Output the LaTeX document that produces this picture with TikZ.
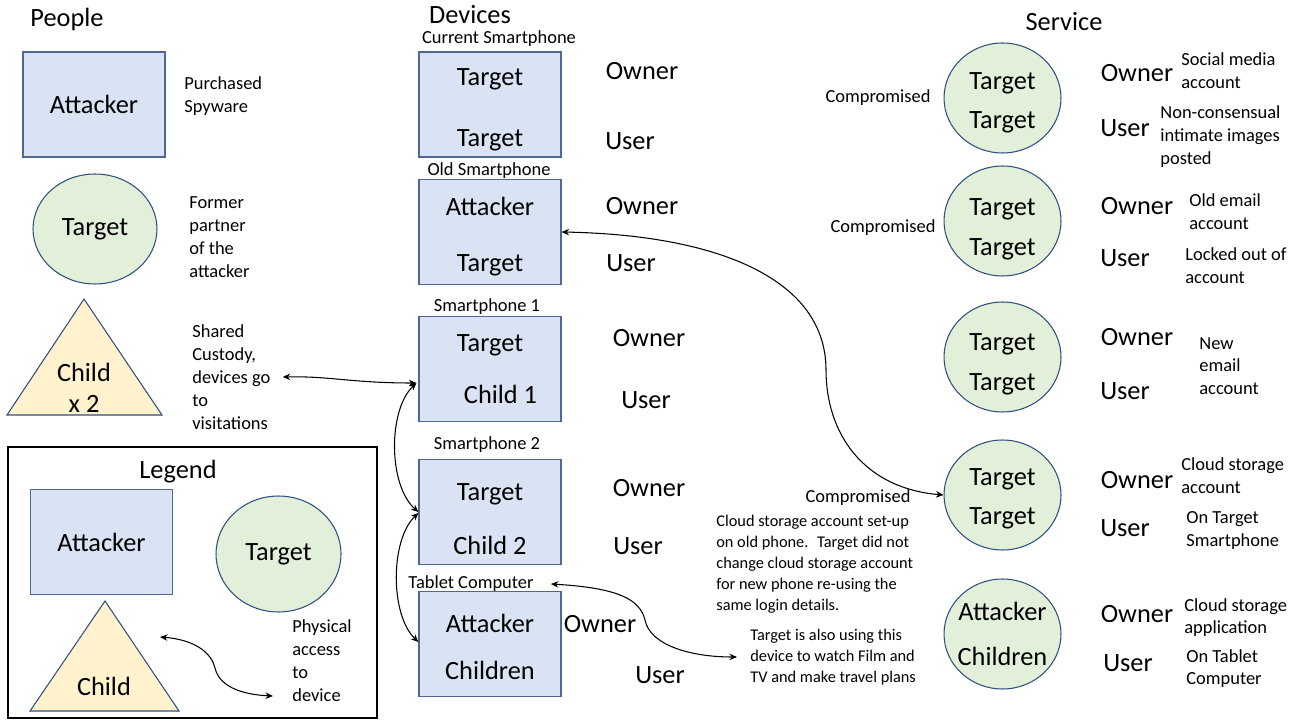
\documentclass[tikz,border=0pt]{standalone}
\usepackage{fontspec}
\setmainfont{Carlito}
\usetikzlibrary{positioning, arrows.meta, shapes.geometric, calc}
\definecolor{boxblue}{HTML}{DAE3F3}
\definecolor{boxedge}{HTML}{52678F}
\definecolor{svcgreen}{HTML}{E2EFD9}
\definecolor{kidyellow}{HTML}{FFF2CC}
\definecolor{edgeblue}{HTML}{2F4F80}
\tikzset{
  >={Stealth[length=1.5mm, width=1.3mm]},
  big/.style={font=\fontsize{15}{18}\selectfont, inner sep=0pt},
  hdr/.style={big},
  role/.style={big},
  devbox/.style={big, draw=boxedge, fill=boxblue, line width=0.7pt, minimum width=2.84cm, minimum height=2.1cm, align=center},
  svc/.style={big, draw=edgeblue, fill=svcgreen, line width=0.6pt, ellipse, inner xsep=-9pt, inner ysep=-8pt, minimum width=2.34cm, minimum height=2.2cm, align=center},
  kid/.style={draw=edgeblue, fill=kidyellow, line width=0.6pt},
  small/.style={font=\fontsize{10.5}{13}\selectfont, inner sep=0pt},
  note/.style={small, anchor=west, align=left},
  para/.style={font=\fontsize{9.3}{11.9}\selectfont, inner sep=0pt, anchor=west, align=left},
  link/.style={<->, line width=0.6pt},
}
% taller first line pushes the two names down in the shape
\newcommand{\padtop}[1]{\rule{0pt}{#1}}

\begin{document}
\begin{tikzpicture}[x=0.02cm, y=-0.02cm]
\useasboundingbox (0,0) rectangle (1300,722);

% headings
\node[hdr] (hPeople) at (67,19) {People};
\node[hdr] (hDevices) at (470,15) {Devices};
\node[hdr] (hService) at (1064,22) {Service};

% people
\node[devbox] (pAtt) at (94,104.5) {Attacker};
\node[note] (pAttNote) at (184,96) {Purchased\\Spyware};
\node[svc, inner xsep=0pt, minimum width=2.48cm] (pTgt) at (95,229) {Target};
\node[note] (pTgtNote) at (189,237) {Former\\partner\\of the\\attacker};
\draw[kid] (84,299) -- (162,415) -- (7,415) -- cycle;
\node[big, align=center] (pKid) at (84,388) {Child\\x 2};
\node[note] (pKidNote) at (192,377) {Shared\\Custody,\\devices go\\to\\visitations};

% legend
\draw[line width=1.5pt] (8,447) rectangle (377,718);
\node[big] (legTitle) at (178,472) {Legend};
\node[devbox] (lAtt) at (101.5,542) {Attacker};
\node[svc, inner xsep=0pt, minimum width=2.5cm, minimum height=2.32cm] (lTgt) at (278.5,554) {Target};
\draw[kid] (105,601) -- (179,711) -- (30,711) -- cycle;
\node[big] (lKid) at (104,686) {Child};
\node[note] (lNote) at (292,660.5) {Physical\\access\\to\\device};
\coordinate (lArrA) at (160,637);
\coordinate (lArrB) at (273,696);
\draw[link] (lArrA) .. controls (198,640) and (212,655) .. (215,668) .. controls (220,690) and (250,695) .. (lArrB);

% devices
\node[small] (dCurLbl) at (499,39) {Current Smartphone};
\node[devbox] (dCur) at (490,104.5) {\padtop{15.4pt}Target\\[17pt]Target};
\node[role] (dCurOwn) at (642,71) {Owner};
\node[role] (dCurUse) at (630,141) {User};

\node[small] (dOldLbl) at (489,171) {Old Smartphone};
\node[devbox] (dOld) at (490,232) {\padtop{15.9pt}Attacker\\[14pt]Target};
\node[role] (dOldOwn) at (642,206) {Owner};
\node[role] (dOldUse) at (631,263) {User};

\node[small] (dSp1Lbl) at (487,307) {Smartphone 1};
\node[devbox] (dSp1) at (490,369) {Target\\[12pt]\hspace*{12pt}Child 1};
\node[role] (dSp1Own) at (649,338) {Owner};
\node[role] (dSp1Use) at (646,400) {User};

\node[small] (dSp2Lbl) at (487,445) {Smartphone 2};
\node[devbox] (dSp2) at (490,512) {\padtop{17.6pt}Target\\[13pt]Child 2};
\node[role] (dSp2Own) at (649,488) {Owner};
\node[role] (dSp2Use) at (638,546) {User};

\node[small] (dTabLbl) at (471,584) {Tablet Computer};
\node[devbox] (dTab) at (490,644) {\padtop{13.6pt}Attacker\\[9pt]Children};
\node[role] (dTabOwn) at (600,624) {Owner};
\node[role] (dTabUse) at (660,675) {User};

% services
\node[svc] (s1) at (1002.5,98) {\padtop{15.4pt}Target\\[4pt]Target};
\node[small] (comp1) at (878,98) {Compromised};
\node[role] (s1Own) at (1137,73) {Owner};
\node[role] (s1Use) at (1125,128) {User};
\node[note] (s1a) at (1181,70.5) {Social media\\account};
\node[note] (s1b) at (1160,136.5) {Non-consensual\\intimate images\\posted};

\node[svc] (s2) at (1002.5,221) {\padtop{18.8pt}Target\\[5pt]Target};
\node[small] (comp2) at (883,228) {Compromised};
\node[role] (s2Own) at (1137,206) {Owner};
\node[role] (s2Use) at (1125,258) {User};
\node[note] (s2a) at (1189,211.5) {Old email\\account};
\node[note] (s2b) at (1185,266) {Locked out of\\account};

\node[svc] (s3) at (1002.5,357) {\padtop{17.6pt}Target\\[4.7pt]Target};
\node[role] (s3Own) at (1137,337) {Owner};
\node[role] (s3Use) at (1125,391) {User};
\node[note] (s3a) at (1199,366) {New\\email\\account};

\node[svc] (s4) at (1002.5,495) {\padtop{14.2pt}Target\\[4pt]Target};
\node[role] (s4Own) at (1137,480) {Owner};
\node[role] (s4Use) at (1125,528) {User};
\node[note] (s4a) at (1181,475.5) {Cloud storage\\account};
\node[note] (s4b) at (1186,530.5) {On Target\\Smartphone};
\node[small] (comp4) at (858,498) {Compromised};
\node[para] (cloudNote) at (716,564) {Cloud storage account set-up\\on old phone.~ Target did not\\change cloud storage account\\for new phone re-using the\\same login details.};

\node[svc] (s5) at (1002.5,634) {Attacker\\[7.5pt]Children};
\node[role] (s5Own) at (1137,614) {Owner};
\node[role] (s5Use) at (1128,663) {User};
\node[note] (s5a) at (1184,617.5) {Cloud storage\\application};
\node[note] (s5b) at (1186,668.5) {On Tablet\\Computer};
\node[para] (tabNote) at (750,657) {Target is also using this\\device to watch Film and\\TV and make travel plans};

% links
\draw[link] ($(pKidNote.east)+(12,0)$) .. controls (330,376) and (352,383) .. ($(dSp1.west)+(-2,14)$);
\draw[link] ($(dSp1.west)+(-2,14)$) .. controls (388,410) and (388,485) .. (dSp2.west);
\draw[link] ($(dSp2.west)+(0,1)$) .. controls (390,540) and (390,615) .. ($(dTab.west)+(0,-2)$);
\draw[link] (dOld.east) .. controls (720,235) and (826,280) .. (826,370) .. controls (826,432) and (862,488) .. (s4.west);
\draw[link] ($(dTabLbl.east)+(17,0)$) .. controls (620,588) and (640,600) .. (645,620) .. controls (650,645) and (690,657) .. ($(tabNote.west)+(-13,0)$);
\end{tikzpicture}
\end{document}
